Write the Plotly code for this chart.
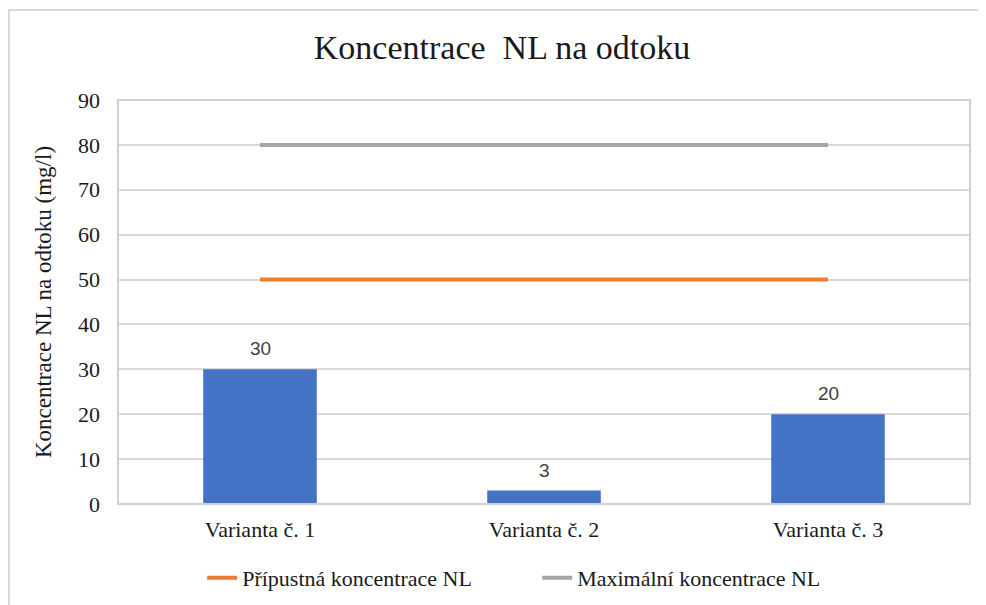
import plotly.graph_objects as go

# data
categories = ["Varianta č. 1", "Varianta č. 2", "Varianta č. 3"]
concentration = [30, 3, 20]
allowed_name = "Přípustná koncentrace NL"
allowed = [50, 50, 50]
max_name = "Maximální koncentrace NL"
maximum = [80, 80, 80]

serif = "Liberation Serif"

fig = go.Figure()
fig.add_trace(go.Bar(
    x=categories, y=concentration, width=0.4,
    marker=dict(color="#4472C4", line=dict(width=0)),
    showlegend=False, hoverinfo="x+y",
))
fig.add_trace(go.Scatter(
    x=categories, y=allowed, mode="lines", name=allowed_name,
    line=dict(color="#ED7D31", width=4),
))
fig.add_trace(go.Scatter(
    x=categories, y=maximum, mode="lines", name=max_name,
    line=dict(color="#A5A5A5", width=4),
))

# value labels above the bars
for cat, val in zip(categories, concentration):
    fig.add_annotation(x=cat, y=val, text=str(val), showarrow=False,
                       yanchor="bottom", yshift=8,
                       font=dict(family="Liberation Sans", size=19, color="#404040"))

# page has an 8px body margin, so the plot area is placed 8px up/left
fig.update_layout(
    width=986, height=605,
    margin=dict(l=110, r=24, t=92, b=109),
    paper_bgcolor="white", plot_bgcolor="white",
    font=dict(family=serif, size=22, color="#1a1a1a"),
    title=dict(text="Koncentrace  NL na odtoku", x=0.501, xanchor="center",
               y=0.936, yanchor="middle", font=dict(size=34, family=serif)),
    xaxis=dict(range=[-0.5, 2.5], showgrid=False, ticks="", showline=False,
               tickfont=dict(size=22, family=serif), ticklabelstandoff=10),
    yaxis=dict(range=[0, 90], dtick=10, showgrid=True, gridcolor="#d9d9d9",
               gridwidth=2, zeroline=False, ticks="", showline=False,
               tickfont=dict(size=22, family=serif), ticklabelstandoff=17,
               title=dict(text="Koncentrace NL na odtoku (mg/l)", standoff=19,
                          font=dict(size=23, family=serif))),
    legend=dict(orientation="h", x=0.492, xanchor="center", y=-0.183,
                yanchor="middle", font=dict(size=22, family=serif),
                traceorder="normal", entrywidth=290),
    shapes=[
        dict(type="rect", xref="paper", yref="paper", x0=0, x1=1, y0=0, y1=1,
             line=dict(color="#d0d0d0", width=2), layer="above"),
        dict(type="rect", xref="paper", yref="paper", x0=-0.128, x1=1.2,
             y0=-0.5, y1=1.223, line=dict(color="#d9d9d9", width=2)),
    ],
)

fig.write_html("out.html")
